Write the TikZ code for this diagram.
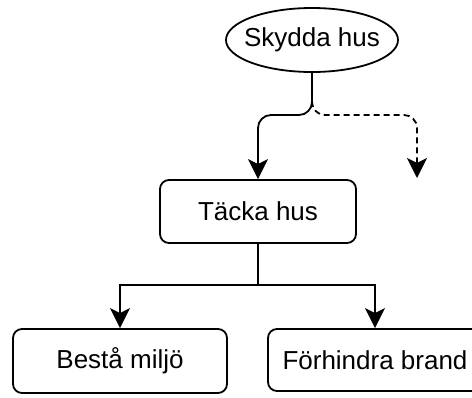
\documentclass[tikz,border=0pt]{standalone}
\usepackage{fontspec}
\setmainfont{Liberation Sans}
\usetikzlibrary{shapes.geometric,arrows.meta}
\begin{document}
\begin{tikzpicture}[x=1pt,y=-1pt,
  every node/.style={font=\fontsize{26}{31}\selectfont},
  ovalbox/.style={draw,ellipse,line width=1.8pt,minimum width=172pt,minimum height=64pt,inner sep=0pt},
  taskbox/.style={draw,rounded corners=9pt,line width=1.8pt,minimum width=214pt,minimum height=64pt,inner sep=0pt},
  conn/.style={line width=1.8pt,-{Stealth[length=20pt,width=20pt,inset=5pt]},rounded corners=13pt},
  dconn/.style={conn,dash pattern=on 6pt off 4pt}]
\clip (0,0) rectangle (472,397);
\node[ovalbox] (skydda) at (312,40) {\makebox[0pt]{Skydda hus}};
\node[taskbox,minimum width=196pt,minimum height=63pt] (tacka) at (258,211.5) {Täcka hus};
\node[taskbox] (besta) at (120,361) {Bestå miljö};
\node[taskbox,minimum height=62pt] (forhindra) at (375,360) {Förhindra brand};
\coordinate (split) at (312,101);
\coordinate (dend) at (417,178);
\draw[conn] (skydda.south) -- (312,115) -- (258,115) -- (tacka.north);
\draw[dconn] (split) -- (312,115) -- (417,115) -- (dend);
\draw[line width=1.8pt] (tacka.south) -- (258,285) coordinate (mid);
\draw[conn,rounded corners=0pt] (mid) -| (besta.north);
\draw[conn,rounded corners=0pt] (mid) -| (forhindra.north);
\end{tikzpicture}
\end{document}
